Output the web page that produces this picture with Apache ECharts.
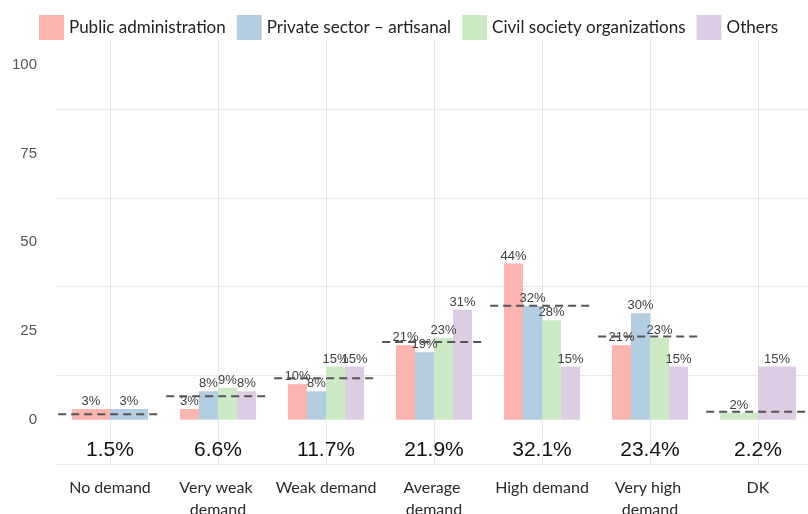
<!DOCTYPE html>
<html>
<head>
<meta charset="utf-8">
<script src="https://cdn.jsdelivr.net/npm/echarts@6/dist/echarts.min.js"></script>
<style>
html, body { margin: 0; padding: 0; background: #fff; }
#container { width: 808px; height: 514px; }
</style>
</head>
<body>
<div id="container"></div>
<script>
const categories = ['No demand', 'Very weak demand', 'Weak demand', 'Average demand', 'High demand', 'Very high demand', 'DK'];
const groups = ['Public administration', 'Private sector – artisanal', 'Civil society organizations', 'Others'];
const publicAdmin = [3, 3, 10, 21, 44, 21, null];
const privateSector = [3, 8, 8, 19, 32, 30, null];
const civilSociety = [null, 9, 15, 23, 28, 23, 2];
const others = [null, 8, 15, 31, 15, 15, 15];
const overall = [1.5, 6.6, 11.7, 21.9, 32.1, 23.4, 2.2];
const yTickLabels = [0, 25, 50, 75, 100];

const COLORS = ['#FBB4AE', '#B3CDE3', '#CCEBC5', '#DECBE4'];
const PCT_ROW = -8.5; // where the overall % sits, below zero
const LABEL_FONT = '"Liberation Sans", Arial, sans-serif';
const TEXT_FONT = 'Lato, "Open Sans", sans-serif';

const groupValues = [publicAdmin, privateSector, civilSociety, others];

// groups present in each category
const present = categories.map(function (c, k) {
    return groupValues.map(function (vals, g) { return vals[k] == null ? -1 : g; })
        .filter(function (g) { return g >= 0; });
});

const barLabel = {
    show: true,
    position: 'top',
    distance: 1,
    formatter: '{c}%',
    fontSize: 13,
    color: '#404040',
    fontFamily: LABEL_FONT
};

let dom = document.getElementById('container');
let myChart = echarts.init(dom);

let seriesInOption = [];
for (let g = 0; g < groups.length; g++) {
    seriesInOption.push({
        name: groups[g],
        type: 'bar',
        xAxisIndex: 0,
        barWidth: 19,
        barGap: '0%',
        itemStyle: { color: COLORS[g] },
        label: barLabel,
        data: categories.map(function (c, k) {
            return present[k].length === groups.length ? groupValues[g][k] : '-';
        })
    });
}

// categories with only two groups get wider bars (like ggplot dodge)
for (let j = 0; j < 2; j++) {
    seriesInOption.push({
        name: 'wide' + j,
        type: 'bar',
        xAxisIndex: 1,
        barWidth: 38,
        barGap: '0%',
        label: barLabel,
        data: categories.map(function (c, k) {
            if (present[k].length === groups.length) return '-';
            let g = present[k][j];
            return { value: groupValues[g][k], itemStyle: { color: COLORS[g] } };
        })
    });
}

// overall share: dashed line plus big % below the bars
seriesInOption.push({
    type: 'custom',
    xAxisIndex: 0,
    yAxisIndex: 0,
    z: 5,
    data: overall.map(function (v, k) { return [k, v]; }),
    renderItem: function (params, api) {
        let p = api.coord([api.value(0), api.value(1)]);
        let t = api.coord([api.value(0), PCT_ROW]);
        let w = api.size([1, 0])[0];
        return {
            type: 'group',
            children: [{
                type: 'line',
                shape: { x1: p[0] - w * 0.48, y1: p[1], x2: p[0] + w * 0.48, y2: p[1] },
                style: { stroke: '#555', lineWidth: 2, lineDash: [8, 5] }
            }, {
                type: 'text',
                x: t[0],
                y: t[1],
                style: {
                    text: api.value(1).toFixed(1) + '%',
                    fill: '#111',
                    fontSize: 21,
                    fontFamily: LABEL_FONT,
                    align: 'center',
                    verticalAlign: 'middle'
                }
            }]
        };
    }
});

option = {
    backgroundColor: '#fff',
    animation: false,
    legend: {
        data: groups,
        left: 34,
        top: 10,
        icon: 'rect',
        itemWidth: 25,
        itemHeight: 25,
        itemGap: 11,
        textStyle: { fontSize: 17, color: '#222', fontFamily: TEXT_FONT }
    },
    grid: { left: 56, right: -4, top: 40, bottom: 50, outerBoundsMode: 'none' },
    xAxis: [{
        type: 'category',
        data: categories,
        axisLine: { show: false },
        axisTick: { show: false },
        splitLine: { show: false },
        axisLabel: {
            interval: 0,
            margin: 13,
            fontSize: 16,
            lineHeight: 22,
            color: '#2a2a2a',
            fontFamily: TEXT_FONT,
            width: 104,
            overflow: 'break'
        }
    }, {
        type: 'category',
        data: categories,
        show: false
    }, {
        type: 'value',
        min: -0.5,
        max: 6.5,
        interval: 0.5,
        axisLine: { show: false },
        axisTick: { show: false },
        axisLabel: { show: false },
        splitLine: {
            show: true,
            lineStyle: { color: ['rgba(0,0,0,0)', '#e6e6e6'], width: 1 }
        }
    }],
    yAxis: {
        type: 'value',
        min: -12.5,
        max: 107,
        interval: 12.5,
        axisLine: { show: false },
        axisTick: { show: false },
        axisLabel: {
            margin: 19,
            fontSize: 15,
            color: '#555',
            fontFamily: LABEL_FONT,
            formatter: function (v) {
                return yTickLabels.indexOf(v) >= 0 ? String(v) : '';
            }
        },
        splitLine: {
            show: true,
            showMaxLine: false,
            lineStyle: { color: ['#ebebeb', 'rgba(0,0,0,0)'], width: 1 }
        }
    },
    series: seriesInOption
};

myChart.setOption(option, true);
window.addEventListener('resize', function () {
    myChart.resize();
});
</script>
</body>
</html>
